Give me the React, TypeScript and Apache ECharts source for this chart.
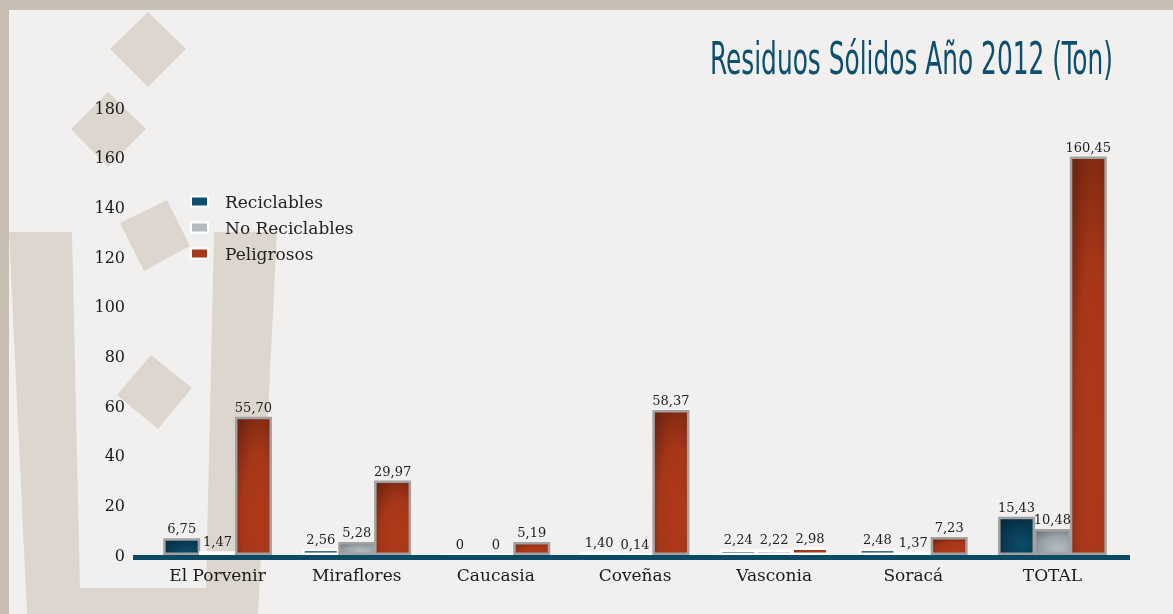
import React, { useEffect, useRef } from "react";
import * as echarts from "echarts";

const categories = ["El Porvenir", "Miraflores", "Caucasia", "Coveñas", "Vasconia", "Soracá", "TOTAL"];
const reciclables = [6.75, 2.56, 0, 1.4, 2.24, 2.48, 15.43];
const noReciclables = [1.47, 5.28, 0, 0.14, 2.22, 1.37, 10.48];
const peligrosos = [55.7, 29.97, 5.19, 58.37, 2.98, 7.23, 160.45];
const seriesNames = ["Reciclables", "No Reciclables", "Peligrosos"];
const yMin = 0;
const yMax = 180;
const yInterval = 20;

const SLAB = "'DejaVu Serif', 'Liberation Serif', serif";
const SHAPE = "#ddd6cf";
const BG = "#f1f0ee";
const FRAME = "#c8bfb4";

function radial(inner: string, mid: string, outer: string) {
  return new echarts.graphic.RadialGradient(0.65, 0.75, 0.9, [
    { offset: 0, color: inner },
    { offset: 0.55, color: mid },
    { offset: 1, color: outer },
  ]);
}

const fills = [
  radial("#0d4c69", "#083a54", "#04283b"),
  radial("#b4bbc1", "#9aa1a7", "#6f767b"),
  radial("#ae3b1a", "#a63618", "#6e240f"),
];
const legendColors = ["#0d4f6e", "#b3bac2", "#a8381a"];

function fmt(v: number) {
  return v === 0 ? "0" : v.toFixed(2).replace(".", ",");
}

function items(vals: number[]) {
  return vals.map((v) => ({
    value: v,
    itemStyle: { borderColor: v < 3 ? "#ffffff" : "#a2a2a2" },
  }));
}

export default function App() {
  const ref = useRef<HTMLDivElement>(null);
  useEffect(() => {
    if (!ref.current) return;
    const chart = echarts.init(ref.current, null, { renderer: "svg" });
    const dataSets = [reciclables, noReciclables, peligrosos];
    chart.setOption({
      animation: false,
      graphic: {
        elements: [
          { type: "rect", z: 0, shape: { x: 0, y: 0, width: 1173, height: 614 }, style: { fill: BG } },
          { type: "rect", z: 0, shape: { x: 0, y: 0, width: 1173, height: 10 }, style: { fill: FRAME } },
          { type: "rect", z: 0, shape: { x: 0, y: 0, width: 9, height: 614 }, style: { fill: FRAME } },
          { type: "polygon", z: 0, shape: { points: [[9, 232], [277, 232], [258, 614], [27, 614]] }, style: { fill: SHAPE } },
          { type: "polygon", z: 0, shape: { points: [[72, 232], [214, 232], [206, 588], [80, 588]] }, style: { fill: BG } },
          { type: "polygon", z: 0, shape: { points: [[148, 12], [186, 49], [148, 87], [110, 49]] }, style: { fill: SHAPE } },
          { type: "polygon", z: 0, shape: { points: [[108, 92], [146, 129], [108, 167], [71, 129]] }, style: { fill: SHAPE } },
          { type: "polygon", z: 0, shape: { points: [[167, 200], [190, 246], [144, 271], [120, 223]] }, style: { fill: SHAPE } },
          { type: "polygon", z: 0, shape: { points: [[151, 355], [192, 388], [158, 429], [117, 395]] }, style: { fill: SHAPE } },
          { type: "rect", z: 10, shape: { x: 133, y: 555, width: 997, height: 5 }, style: { fill: "#0d4a66" } },
          {
            type: "text",
            z: 10,
            x: 1113,
            y: 37,
            scaleX: 0.628,
            style: {
              text: "Residuos Sólidos Año 2012 (Ton)",
              font: "44px 'Liberation Sans Narrow', 'DejaVu Sans Condensed', sans-serif",
              fill: "#0d4f6e",
              align: "right",
              verticalAlign: "top",
            },
          },
        ],
      },
      legend: {
        orient: "vertical",
        left: 190,
        top: 193,
        padding: 0,
        itemWidth: 17,
        itemHeight: 10,
        itemGap: 9,
        icon: "rect",
        textStyle: { fontFamily: SLAB, fontSize: 17, color: "#222", lineHeight: 17, padding: [0, 0, 0, 12] },
        data: seriesNames.map((n, i) => ({
          name: n,
          itemStyle: { color: legendColors[i], borderColor: "#ffffff", borderWidth: 2 },
        })),
      },
      grid: { left: 148, right: 51, top: 108, bottom: 59 },
      xAxis: {
        type: "category",
        data: categories,
        axisLine: { show: false },
        axisTick: { show: false },
        axisLabel: { fontFamily: SLAB, fontSize: 17, color: "#1a1a1a", margin: 11 },
      },
      yAxis: {
        type: "value",
        min: yMin,
        max: yMax,
        interval: yInterval,
        splitLine: { show: false },
        axisLine: { show: false },
        axisTick: { show: false },
        axisLabel: { fontFamily: SLAB, fontSize: 16, color: "#1a1a1a", margin: 23 },
      },
      series: seriesNames.map((n, i) => ({
        name: n,
        type: "bar",
        barWidth: 37,
        barGap: "-3%",
        data: items(dataSets[i]),
        itemStyle: { color: fills[i], borderWidth: 2.5 },
        label: {
          show: true,
          position: "top",
          distance: 3,
          formatter: (p: any) => fmt(p.value),
          fontFamily: SLAB,
          fontSize: 13,
          color: "#222",
        },
      })),
    });
    return () => chart.dispose();
  }, []);
  return <div ref={ref} style={{ position: "fixed", left: 0, top: 0, width: 1173, height: 614 }} />;
}
